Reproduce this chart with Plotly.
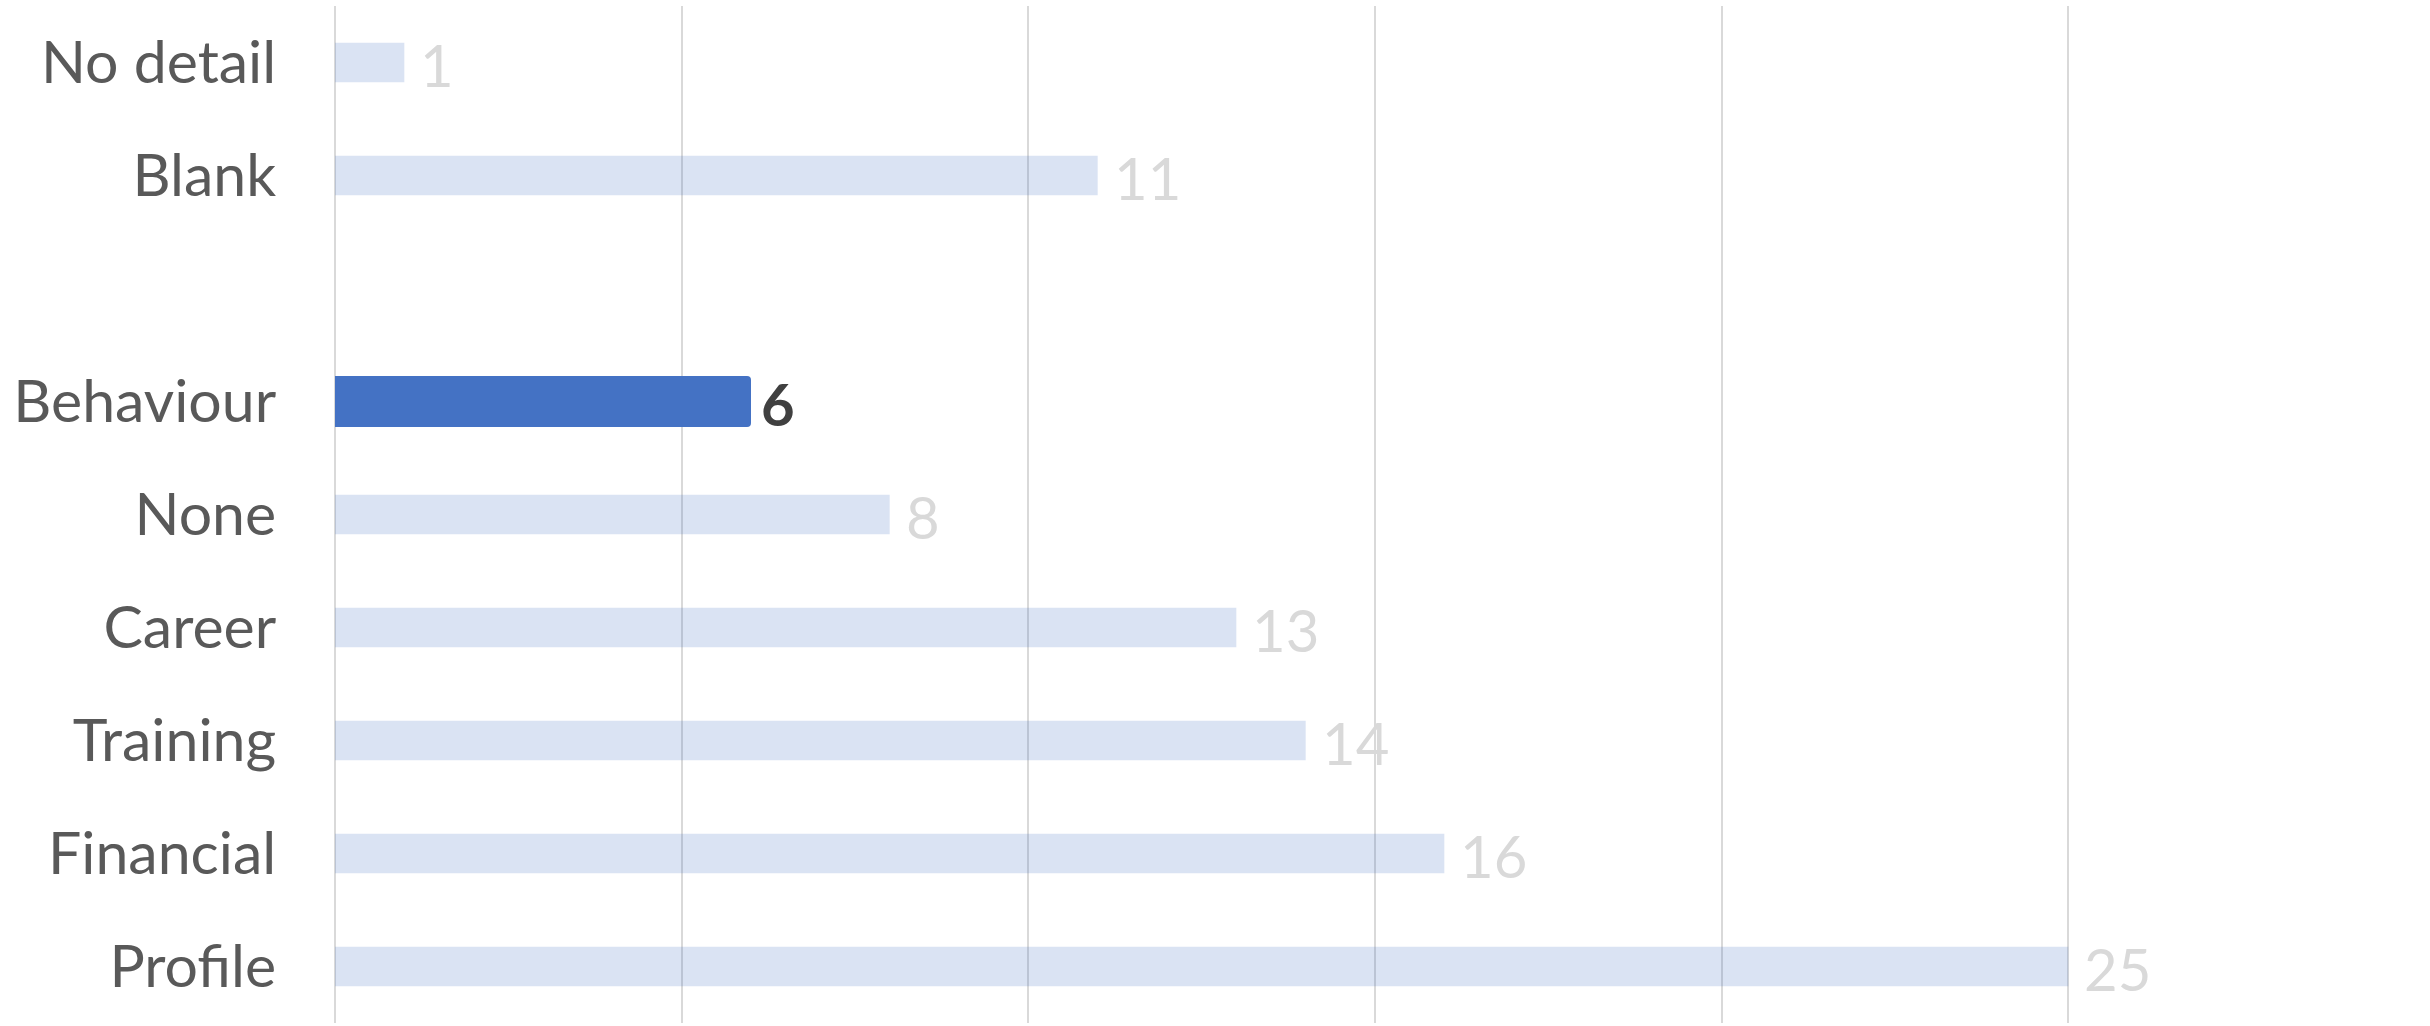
import plotly.graph_objects as go

categories = ["Profile", "Financial", "Training", "Career", "None", "Behaviour", " ", "Blank", "No detail"]
values = [25, 16, 14, 13, 8, 6, None, 11, 1]
highlight = "Behaviour"

LIGHT = "rgba(68,114,196,0.2)"
DARK = "#4472C4"

base_vals = [None if c == highlight else v for c, v in zip(categories, values)]
hi_vals = [v if c == highlight else None for c, v in zip(categories, values)]

fig = go.Figure()
fig.add_trace(go.Bar(
    x=base_vals, y=categories, orientation="h",
    marker=dict(color=LIGHT, line=dict(width=0)),
    width=0.35, hoverinfo="skip",
))
fig.add_trace(go.Bar(
    x=hi_vals, y=categories, orientation="h",
    marker=dict(color=DARK, line=dict(width=0), cornerradius=4),
    width=0.45, hoverinfo="skip",
))

for c, v in zip(categories, values):
    if v is None:
        continue
    is_h = c == highlight
    fig.add_annotation(
        x=v, y=c, text=f"<b>{v}</b>" if is_h else str(v),
        xanchor="left", yanchor="middle", showarrow=False,
        xshift=8 if is_h else 14, yshift=-2,
        font=dict(family="Lato, sans-serif", size=58,
                  color="#404040" if is_h else "#D9D9D9"),
    )

fig.update_layout(
    width=2430, height=1026,
    margin=dict(l=335, r=15, t=6, b=3),
    paper_bgcolor="white", plot_bgcolor="white",
    showlegend=False, barmode="overlay",
    font=dict(family="Lato, sans-serif"),
)
fig.update_xaxes(
    range=[0, 30], dtick=5, tick0=0, showticklabels=False,
    showgrid=True, gridcolor="#D9D9D9", gridwidth=2,
    zeroline=True, zerolinecolor="#D9D9D9", zerolinewidth=2,
    showline=False, fixedrange=True, automargin=False,
)
fig.update_yaxes(
    categoryorder="array", categoryarray=categories,
    showgrid=False, zeroline=False, showline=False,
    ticks="outside", ticklen=46, tickcolor="rgba(0,0,0,0)",
    tickfont=dict(family="Lato, sans-serif", size=59, color="#595959"),
    range=[-0.5, len(categories) - 0.5], fixedrange=True, automargin=False,
)

fig.write_html(
    "out.html",
    config={"displayModeBar": False},
    post_script="document.body.style.margin='0';document.body.style.overflow='hidden';",
)
